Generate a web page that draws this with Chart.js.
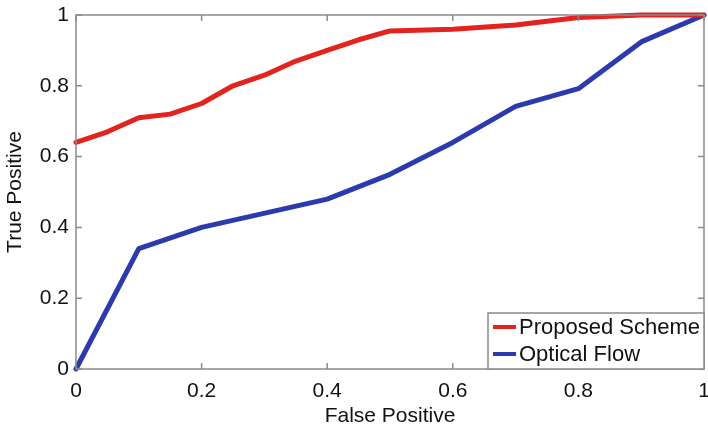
<!DOCTYPE html>
<html>
<head>
<meta charset="utf-8">
<script src="https://cdn.jsdelivr.net/npm/chart.js@4/dist/chart.umd.min.js"></script>
<style>
  html, body { margin: 0; padding: 0; background: #fff; overflow: hidden; }
  #wrap { width: 708px; height: 429px; position: relative; }
</style>
</head>
<body>
<div id="wrap"><canvas id="roc"></canvas></div>
<script>
// ROC curves: false positive rate vs. true positive rate
const proposedFP = [0, 0.05, 0.1, 0.15, 0.2, 0.25, 0.3, 0.35, 0.4, 0.45, 0.5, 0.6, 0.7, 0.8, 0.9, 1];
const proposedTP = [0.64, 0.67, 0.71, 0.72, 0.75, 0.80, 0.83, 0.87, 0.90, 0.93, 0.955, 0.96, 0.972, 0.993, 1, 1];
const flowFP = [0, 0.1, 0.2, 0.4, 0.5, 0.6, 0.7, 0.8, 0.9, 1];
const flowTP = [0, 0.34, 0.40, 0.48, 0.55, 0.64, 0.742, 0.792, 0.924, 1];
const seriesNames = ['Proposed Scheme', 'Optical Flow'];
const tickValues = [0, 0.2, 0.4, 0.6, 0.8, 1];
const xTitle = 'False Positive';
const yTitle = 'True Positive';

const RED = '#e3231d';
const BLUE = '#2b3aad';
const AXIS = '#8a8a8a';
const FONT = 'Liberation Sans, Arial, sans-serif';

const toPoints = (xs, ys) => xs.map((x, i) => ({ x, y: ys[i] }));

// box around the plot with MATLAB-style inward ticks, plus legend in the corner
const frame = {
  id: 'frame',
  afterDatasetsDraw(chart) {
    const { ctx, chartArea: a, scales } = chart;
    ctx.save();
    ctx.strokeStyle = AXIS;
    ctx.lineWidth = 1.5;
    ctx.strokeRect(a.left, a.top, a.right - a.left, a.bottom - a.top);
    const len = 6;
    ctx.beginPath();
    tickValues.forEach(v => {
      const px = scales.x.getPixelForValue(v);
      ctx.moveTo(px, a.bottom); ctx.lineTo(px, a.bottom - len);
      ctx.moveTo(px, a.top); ctx.lineTo(px, a.top + len);
      const py = scales.y.getPixelForValue(v);
      ctx.moveTo(a.left, py); ctx.lineTo(a.left + len, py);
      ctx.moveTo(a.right, py); ctx.lineTo(a.right - len, py);
    });
    ctx.stroke();

    // legend box
    const w = 216, h = 56;
    const lx = a.right - w, ly = a.bottom - h;
    ctx.fillStyle = '#fff';
    ctx.fillRect(lx, ly, w, h);
    ctx.strokeRect(lx, ly, w, h);
    ctx.font = '22px ' + FONT;
    ctx.textBaseline = 'middle';
    ctx.textAlign = 'left';
    chart.data.datasets.forEach((ds, i) => {
      const cy = ly + 14 + i * 27;
      ctx.strokeStyle = ds.borderColor;
      ctx.lineWidth = 4;
      ctx.beginPath();
      ctx.moveTo(lx + 5, cy); ctx.lineTo(lx + 28, cy);
      ctx.stroke();
      ctx.fillStyle = '#111';
      ctx.fillText(ds.label, lx + 31, cy + 1);
    });
    ctx.restore();
  }
};

new Chart(document.getElementById('roc'), {
  type: 'line',
  data: {
    datasets: [
      { label: seriesNames[0], data: toPoints(proposedFP, proposedTP), borderColor: RED, borderWidth: 5 },
      { label: seriesNames[1], data: toPoints(flowFP, flowTP), borderColor: BLUE, borderWidth: 5 }
    ]
  },
  options: {
    responsive: true,
    maintainAspectRatio: false,
    animation: false,
    clip: false,
    elements: { point: { radius: 0 }, line: { tension: 0, borderCapStyle: 'round', borderJoinStyle: 'round' } },
    layout: { padding: { top: 15, right: 4, left: 3, bottom: 0 } },
    plugins: { legend: { display: false }, tooltip: { enabled: false } },
    scales: {
      x: {
        type: 'linear', min: 0, max: 1,
        grid: { display: false, drawTicks: false },
        border: { display: false },
        afterBuildTicks: s => { s.ticks = tickValues.map(v => ({ value: v })); },
        afterFit: s => { s.height = 60; s.paddingLeft = 0; s.paddingRight = 0; },
        ticks: { color: '#111', padding: 10, font: { family: FONT, size: 21 }, callback: v => String(v), maxRotation: 0 },
        title: { display: true, text: xTitle, color: '#111', font: { family: FONT, size: 21 }, padding: { top: 0, bottom: 0 } }
      },
      y: {
        type: 'linear', min: 0, max: 1,
        grid: { display: false, drawTicks: false },
        border: { display: false },
        afterBuildTicks: s => { s.ticks = tickValues.map(v => ({ value: v })); },
        afterFit: s => { s.width = 73; s.paddingTop = 0; s.paddingBottom = 0; },
        ticks: { color: '#111', padding: 7, font: { family: FONT, size: 21 }, callback: v => String(v) },
        title: { display: true, text: yTitle, color: '#111', font: { family: FONT, size: 21 }, padding: { top: 0, bottom: 0 } }
      }
    }
  },
  plugins: [frame]
});
</script>
</body>
</html>
